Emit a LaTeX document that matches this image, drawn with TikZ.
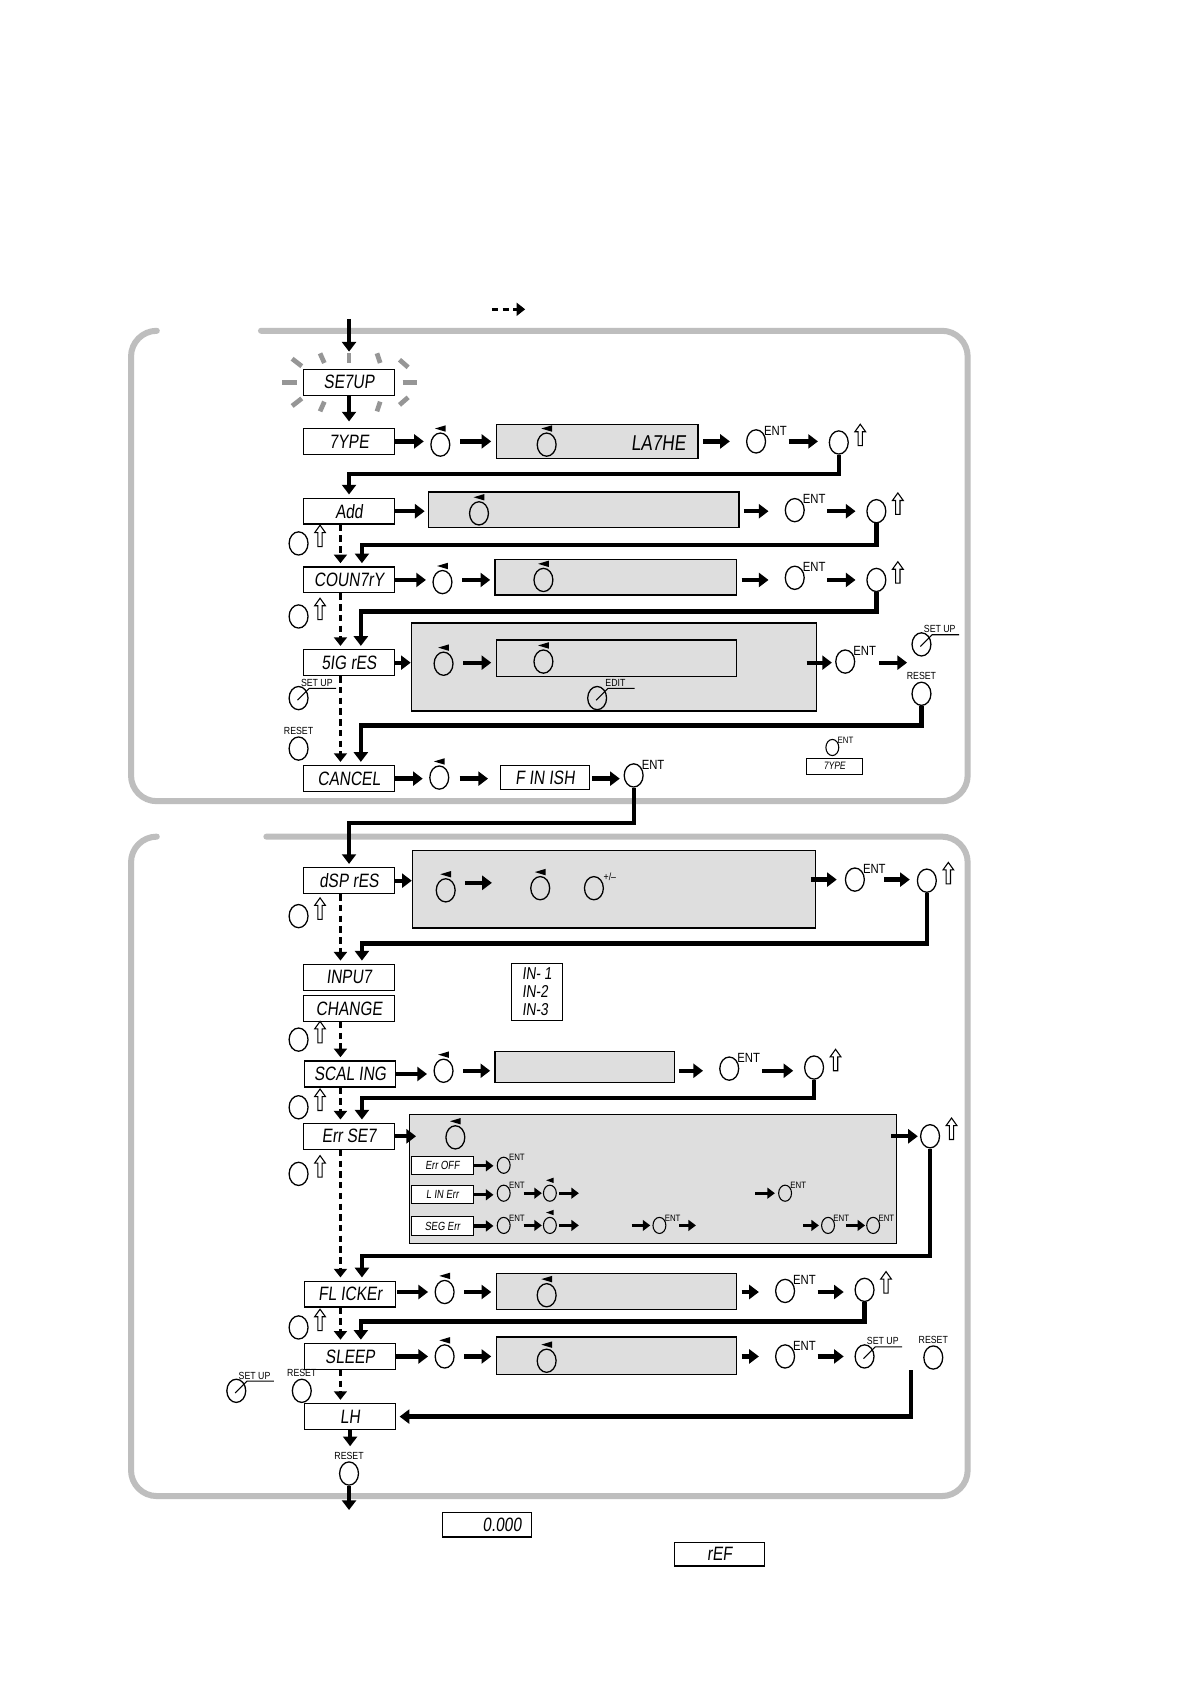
\documentclass[tikz,border=0pt]{standalone}
\usepackage{fontspec}
\setmainfont{Liberation Sans}
\newfontfamily\lcdfont[FakeSlant=0.12,FakeStretch=0.8]{Liberation Sans}
\newfontfamily\lblfont[FakeStretch=0.85]{Liberation Sans}
\usetikzlibrary{arrows.meta,shapes.geometric,calc}
\definecolor{frm}{RGB}{190,190,190}
\definecolor{gfill}{RGB}{222,222,222}
\definecolor{raycol}{RGB}{150,150,150}
\newcommand\mytri[1]{\fill ([shift={(-5,-15)}]#1.center) -- ++(10,-3) -- ++(0,6) -- cycle;}
\newcommand\mystri[1]{\fill ([shift={(-3.5,-12)}]#1.center) -- ++(7,-2.5) -- ++(0,5) -- cycle;}
\newcommand\myup[1]{\draw[line width=0.5pt,fill=white] ([shift={(20,-7)}]#1.center) ++(0,-10) -- ++(-5,7) -- ++(3,0) -- ++(0,13) -- ++(4,0) -- ++(0,-13) -- ++(3,0) -- cycle;}
\newcommand\myent[1]{\node[lbl,anchor=south west] (#1ent) at ([shift={(0.5,2.5)}]#1.north east) {ENT};}
\newcommand\mysent[1]{\node[sslbl,anchor=south west] (#1ent) at ([shift={(0,2)}]#1.north east) {ENT};}
\newcommand\myset[2]{\draw[line width=0.5pt] ([shift={(-1,2)}]#1.center) -- ([shift={(10,-9)}]#1.center) -- ([shift={(35,-9)}]#1.center);
 \node[slbl,anchor=south] (#1lab) at ([shift={(17,-10.5)}]#1.center) {#2};}
\newcommand\myres[1]{\node[slbl,anchor=south] (#1lab) at ([shift={(0,-12.5)}]#1.center) {RESET};}
\begin{document}
\begin{tikzpicture}[x=0.5pt,y=-0.5pt,
 arr/.style={line width=2pt,-{Triangle[length=4.5pt,width=6.5pt]}},
 sarr/.style={line width=1.5pt,-{Triangle[length=3.5pt,width=5pt]}},
 flow/.style={line width=2pt,-{Triangle[length=4.5pt,width=6.5pt]},shorten >=1.5pt},
 darr/.style={line width=1.6pt,dash pattern=on 3pt off 2pt,-{Triangle[length=4pt,width=6pt]},shorten >=1.5pt},
 frame/.style={line width=2.8pt,frm,line cap=round},
 disp/.style={draw,line width=0.6pt,fill=white,minimum width=42.5pt,minimum height=12pt,inner sep=0pt,font=\lcdfont\fontsize{9}{9}\selectfont},
 sdisp/.style={draw,line width=0.5pt,fill=white,minimum width=29pt,minimum height=8.5pt,inner sep=0pt,font=\lcdfont\fontsize{5.5}{5.5}\selectfont},
 gbox/.style={draw,line width=0.6pt,fill=gfill,inner sep=0pt},
 btn/.style={draw,ellipse,line width=0.6pt,minimum width=8.8pt,minimum height=10.8pt,inner sep=0pt},
 sbtn/.style={draw,ellipse,line width=0.5pt,minimum width=6pt,minimum height=7.5pt,inner sep=0pt},
 lbl/.style={font=\lblfont\fontsize{6.2}{6.2}\selectfont,inner sep=0pt},
 slbl/.style={font=\lblfont\fontsize{4.8}{4.8}\selectfont,inner sep=0pt},
 sslbl/.style={font=\lblfont\fontsize{4.3}{4.3}\selectfont,inner sep=0pt},
 gA/.style={shorten >=3pt},
 gB/.style={shorten <=4.5pt,shorten >=2pt},
 gC/.style={shorten <=2pt,shorten >=7.5pt},
 gD/.style={shorten <=10.5pt,shorten >=5pt},
]
\fill[white] (0,0) rectangle (1108,1568);
\useasboundingbox (0,0) rectangle (1108,1568);

% legend
\coordinate (lgA) at (458,288); \coordinate (lgB) at (489,288);
\draw[darr,shorten >=0pt] (lgA) -- (lgB);

% frames
\draw[frame] (146,308) arc[start angle=270,end angle=180,radius=24] -- (122,722) arc[start angle=180,end angle=90,radius=24] -- (877,746) arc[start angle=90,end angle=0,radius=24] -- (901,332) arc[start angle=0,end angle=-90,radius=24] -- (243,308);
\draw[frame] (146,779) arc[start angle=270,end angle=180,radius=24] -- (122,1369) arc[start angle=180,end angle=90,radius=24] -- (877,1393) arc[start angle=90,end angle=0,radius=24] -- (901,803) arc[start angle=0,end angle=-90,radius=24] -- (248,779);

% ===== SETUP
\node[disp] (setup) at (325,356) {SE7UP};
\foreach \a/\b/\c/\d in {-62/0/-48/0, 50/0/63/0, -53/-22/-44/-15, -27/-27/-23/-18, 26/-27/29/-18, 47/-21/55/-14, -53/22/-44/15, -27/27/-23/18, 26/27/29/18, 47/21/55/14, 0/-27/0/-18, 0/16/0/24}
 \draw[raycol,line width=2.2pt] ($(setup.center)+(\a,\b)$) -- ($(setup.center)+(\c,\d)$);
\coordinate (start) at (325,297);
\draw[arr,shorten >=8pt] (start) -- (setup.north);

% ===== TYPE
\node[disp] (type) at (325,411) {7YPE};
\draw[arr,shorten >=3pt] (setup.south) -- (type.north);
\node[btn] (t1) at (410,414) {}; \mytri{t1}
\node[gbox,minimum width=94pt,minimum height=16pt] (tg) at (556,411) {};
\node[btn] (t2) at (509,414) {}; \mytri{t2}
\node[font=\lcdfont\fontsize{10}{10}\selectfont,inner sep=0pt] (tlathe) at (613,413) {LA7HE};
\node[btn] (t3) at (704,411) {}; \myent{t3}
\node[btn] (t4) at (781,412) {}; \myup{t4}
\draw[arr,gA] (type.east) -- (type.east -| t1.west);
\draw[arr,gB] (type.east -| t1.east) -- (type.east -| tg.west);
\draw[arr,gC] (type.east -| tg.east) -- (type.east -| t3.west);
\draw[arr,gD] (type.east -| t3.east) -- (type.east -| t4.west);

% ===== Add
\node[disp] (add) at (325,476) {Add};
\node[gbox,minimum width=144.5pt,minimum height=16.5pt] (ag) at (543.5,474.5) {};
\node[btn] (a1) at (446,478) {}; \mytri{a1}
\node[btn] (a2) at (740,475) {}; \myent{a2}
\node[btn] (a3) at (816,476) {}; \myup{a3}
\draw[arr,shorten >=1.5pt] (add.east) -- (add.east -| ag.west);
\draw[arr,gC] (add.east -| ag.east) -- (add.east -| a2.west);
\draw[arr,gD] (add.east -| a2.east) -- (add.east -| a3.west);
\node[btn] (al) at (278,506) {}; \myup{al}

% ===== COUNTRY
\node[disp] (country) at (325,540) {COUN7rY};
\node[btn] (c1) at (412,542) {}; \mytri{c1}
\node[gbox,minimum width=112.5pt,minimum height=16.5pt] (cg) at (573.5,537.5) {};
\node[btn] (c2) at (506,540) {}; \mytri{c2}
\node[btn] (c3) at (740,538) {}; \myent{c3}
\node[btn] (c4) at (816,540) {}; \myup{c4}
\draw[arr,gA] (country.east) -- (country.east -| c1.west);
\draw[arr,gB] (country.east -| c1.east) -- (country.east -| cg.west);
\draw[arr,gC] (country.east -| cg.east) -- (country.east -| c3.west);
\draw[arr,gD] (country.east -| c3.east) -- (country.east -| c4.west);
\node[btn] (cl) at (278,574) {}; \myup{cl}

% ===== SIG rES
\node[disp] (sigres) at (325,617) {5IG rES};
\node[gbox,minimum width=188.5pt,minimum height=41pt] (sg) at (571.5,621) {};
\node[btn] (s1) at (413,618) {}; \mytri{s1}
\node[gbox,minimum width=112pt,minimum height=17pt] (sgi) at (574,613) {};
\node[btn] (s2) at (506,616) {}; \mytri{s2}
\node[btn] (s3) at (556,650) {}; \myset{s3}{EDIT}
\coordinate (s0) at (751,617);
\node[btn] (s4) at (787,616) {}; \myent{s4}
\node[btn] (s5) at (858,600) {}; \myset{s5}{SET UP}
\node[btn] (s6) at (858,646) {}; \myres{s6}
\draw[arr] (sigres.east) -- (sigres.east -| sg.west);
\draw[arr,gB] (sigres.east -| s1.east) -- (sigres.east -| sgi.west);
\draw[arr,shorten >=1.5pt] (s0) -- (s0 -| s4.west);
\draw[arr,shorten <=11pt,shorten >=2pt] (s0 -| s4.east) -- (s0 -| s5.west);
\node[btn] (sl1) at (278,650) {}; \myset{sl1}{SET UP}
\node[btn] (sl2) at (278,697) {}; \myres{sl2}

% ===== CANCEL
\node[disp] (cancel) at (325,725) {CANCEL};
\node[btn] (n1) at (409,724) {}; \mytri{n1}
\node[disp,minimum width=41.5pt,minimum height=11pt] (finish) at (507.5,724) {F IN ISH};
\node[btn] (n2) at (590,722) {}; \myent{n2}
\draw[arr,gA] (cancel.east) -- (cancel.east -| n1.west);
\draw[arr,shorten <=4.75pt,shorten >=5.5pt] (cancel.east -| n1.east) -- (cancel.east -| finish.west);
\draw[arr,shorten <=1pt,shorten >=1.75pt] (cancel.east -| finish.east) -- (cancel.east -| n2.west);
\node[sbtn] (n3) at (775,696) {}; \mysent{n3}
\node[draw,line width=0.5pt,minimum width=26pt,minimum height=7.5pt,inner sep=0pt,font=\lcdfont\fontsize{5}{5}\selectfont] (n4) at (777,713.5) {7YPE};

% ===== dSP rES
\node[disp] (dsp) at (325,820) {dSP rES};
\node[gbox,minimum width=187.5pt,minimum height=36pt] (dg) at (571.5,828) {};
\node[btn] (d1) at (415,829) {}; \mytri{d1}
\coordinate (d1e) at (458,822);
\node[btn] (d2) at (503,827) {}; \mytri{d2}
\node[btn] (d3) at (553,827) {};
\node[slbl,anchor=south west] (d3lab) at ([shift={(2,1)}]d3.north east) {+/–};
\coordinate (d0) at (755,819);
\node[btn] (d4) at (796,819) {}; \myent{d4}
\node[btn] (d5) at (863,820) {}; \myup{d5}
\draw[arr] (dsp.east) -- (dsp.east -| dg.west);
\draw[arr,shorten <=4.25pt] (d1e -| d1.east) -- (d1e);
\draw[arr,shorten >=3.75pt] (d0) -- (d0 -| d4.west);
\draw[arr,shorten <=9pt,shorten >=3.25pt] (d0 -| d4.east) -- (d0 -| d5.west);
\node[btn] (dl) at (278,853) {}; \myup{dl}

% ===== INPUT CHANGE
\node[disp] (input) at (325,910) {INPU7};
\node[disp] (change) at (325,939) {CHANGE};
\node[draw,line width=0.6pt,minimum width=24pt,minimum height=26.5pt,inner sep=1pt,align=left,font=\lcdfont\fontsize{8}{8.5}\selectfont] (inbox) at (500,923.5) {IN- 1\\IN-2\\IN-3};
\node[btn] (il) at (278,968) {}; \myup{il}

% ===== SCALING
\node[disp] (scaling) at (326,1000) {SCAL ING};
\node[btn] (k1) at (413,997) {}; \mytri{k1}
\node[gbox,minimum width=83.5pt,minimum height=14.5pt] (kg) at (544.5,993.5) {};
\node[btn] (k2) at (679,995) {}; \myent{k2}
\node[btn] (k3) at (758,994) {}; \myup{k3}
\coordinate (krow) at (370,997);
\draw[arr,gA] (scaling.east) -- (scaling.east -| k1.west);
\draw[arr,gB] (krow -| k1.east) -- (krow -| kg.west);
\draw[arr,gC] (krow -| kg.east) -- (krow -| k2.west);
\draw[arr,gD] (krow -| k2.east) -- (krow -| k3.west);
\node[btn] (kl) at (278,1031) {}; \myup{kl}

% ===== Err SET
\node[disp] (errset) at (325,1058) {Err SE7};
\node[gbox,minimum width=227pt,minimum height=60pt] (eg) at (608,1098) {};
\node[btn] (e1) at (424,1059) {}; \mytri{e1}
\coordinate (e0) at (830,1058);
\node[btn] (e2) at (866,1058) {}; \myup{e2}
\draw[arr,shorten >=-3.5pt] (errset.east) -- (errset.east -| eg.west);
\draw[arr,shorten >=1pt] (e0) -- (e0 -| e2.west);
\node[sdisp] (eoff) at (412,1085.5) {Err OFF};
\node[sbtn] (eo1) at (469,1085) {}; \mysent{eo1}
\draw[sarr,shorten >=1.5pt] (eoff.east) -- (eoff.east -| eo1.west);
\node[sdisp] (elin) at (412,1112.5) {L IN Err};
\node[sbtn] (el1) at (469,1111) {}; \mysent{el1}
\node[sbtn] (el2) at (512,1111) {}; \mystri{el2}
\coordinate (el3) at (539,1111);
\coordinate (el4) at (703,1111);
\node[sbtn] (el5) at (731,1111) {}; \mysent{el5}
\draw[sarr,shorten >=1.5pt] (elin.east) -- (elin.east -| el1.west);
\draw[sarr,shorten <=6pt,shorten >=0.5pt] (el1.east) -- (el2.west);
\draw[sarr,shorten <=1pt] (el2.east) -- (el3);
\draw[sarr,shorten >=1.5pt] (el4) -- (el5.west);
\node[sdisp] (eseg) at (412,1141.5) {SEG Err};
\node[sbtn] (es1) at (469,1141) {}; \mysent{es1}
\node[sbtn] (es2) at (512,1141) {}; \mystri{es2}
\coordinate (es3) at (539,1141);
\coordinate (es4) at (588,1141);
\node[sbtn] (es5) at (614,1141) {}; \mysent{es5}
\coordinate (es6) at (648,1141);
\coordinate (es7) at (748,1141);
\node[sbtn] (es8) at (771,1141) {}; \mysent{es8}
\node[sbtn] (es9) at (813,1141) {}; \mysent{es9}
\draw[sarr,shorten >=1.5pt] (eseg.east) -- (eseg.east -| es1.west);
\draw[sarr,shorten <=6pt,shorten >=0.5pt] (es1.east) -- (es2.west);
\draw[sarr,shorten <=1pt] (es2.east) -- (es3);
\draw[sarr,shorten >=1pt] (es4) -- (es5.west);
\draw[sarr,shorten <=6pt] (es5.east) -- (es6);
\draw[sarr,shorten >=1pt] (es7) -- (es8.west);
\draw[sarr,shorten <=5pt,shorten >=0.5pt] (es8.east) -- (es9.west);
\node[btn] (el) at (278,1093) {}; \myup{el}

% ===== FLICKER
\node[disp] (flicker) at (326,1205) {FL ICKEr};
\node[btn] (f1) at (414,1203) {}; \mytri{f1}
\node[gbox,minimum width=112pt,minimum height=16.5pt] (fg) at (574,1202.5) {};
\node[btn] (f2) at (509,1206) {}; \mytri{f2}
\node[btn] (f3) at (731,1202) {}; \myent{f3}
\node[btn] (f4) at (805,1201) {}; \myup{f4}
\coordinate (frow) at (370,1203);
\draw[arr,gA] (frow) -- (frow -| f1.west);
\draw[arr,gB] (frow -| f1.east) -- (frow -| fg.west);
\draw[arr,gC] (frow -| fg.east) -- (frow -| f3.west);
\draw[arr,gD] (frow -| f3.east) -- (frow -| f4.west);
\node[btn] (fl) at (278,1236) {}; \myup{fl}

% ===== SLEEP
\node[disp] (sleep) at (326,1263) {SLEEP};
\node[btn] (p1) at (414,1263) {}; \mytri{p1}
\node[gbox,minimum width=112pt,minimum height=17.5pt] (pg) at (574,1262.5) {};
\node[btn] (p2) at (509,1267) {}; \mytri{p2}
\node[btn] (p3) at (731,1263) {}; \myent{p3}
\node[btn] (p4) at (805,1263) {}; \myset{p4}{SET UP}
\node[btn] (p5) at (869,1264) {}; \myres{p5}
\coordinate (p0) at (848,1276);
\draw[arr,gA] (sleep.east) -- (sleep.east -| p1.west);
\draw[arr,gB] (sleep.east -| p1.east) -- (sleep.east -| pg.west);
\draw[arr,gC] (sleep.east -| pg.east) -- (sleep.east -| p3.west);
\draw[arr,gD] (sleep.east -| p3.east) -- (sleep.east -| p4.west);
\node[btn] (pl1) at (220,1295) {}; \myset{pl1}{SET UP}
\node[btn] (pl2) at (281,1295) {}; \myres{pl2}

% ===== LH
\node[disp] (lh) at (326,1319) {LH};
\node[btn] (r1) at (325,1372) {}; \myres{r1}
\coordinate (endA) at (325,1406);
\draw[arr,shorten >=7pt] (lh.south) -- (lh.south |- r1.north);
\draw[arr] (r1.south) -- (endA);

% bottom displays
\node[disp,minimum width=41.5pt,minimum height=11.5pt] (zero) at (453.5,1419.5) {\hspace*{14pt}0.000};
\node[disp,minimum width=42pt,minimum height=11pt] (refd) at (670,1447) {rEF};

% ===== return flows
\draw[flow] (t4.south) -- ++(0,18) -| (add.north);
\draw[flow] (a3.south) -- ++(0,20) -| ($(country.north)+(12,0)$);
\draw[flow] (c4.south) -- ++(0,18) -| ($(sigres.north)+(11,0)$);
\draw[flow] (s6.south) -- ++(0,18) -| ($(cancel.north)+(11,0)$);
\draw[flow] (n2.south) -- ++(0,33) -| (dsp.north);
\draw[flow] (d5.south) -- ++(0,47) -| ($(input.north)+(12,0)$);
\draw[flow] (k3.south) -- ++(0,17) -| ($(errset.north)+(12,0)$);
\draw[flow] (e2.south) -- ++(0,100) -| ($(flicker.north)+(11,0)$);
\draw[flow] (f4.south) -- ++(0,18) -| ($(sleep.north)+(10,0)$);
\draw[flow] (p0) |- (lh.east);

% ===== dashed
\draw[darr] ($(add.south)+(-8,0)$) -- ($(country.north)+(-8,0)$);
\draw[darr] ($(country.south)+(-8,0)$) -- ($(sigres.north)+(-8,0)$);
\draw[darr] ($(sigres.south)+(-8,0)$) -- ($(cancel.north)+(-8,0)$);
\draw[darr] ($(dsp.south)+(-8,0)$) -- ($(input.north)+(-8,0)$);
\draw[darr] ($(change.south)+(-8,0)$) -- ($(scaling.north)+(-9,0)$);
\draw[darr] ($(scaling.south)+(-9,0)$) -- ($(errset.north)+(-8,0)$);
\draw[darr] ($(errset.south)+(-8,0)$) -- ($(flicker.north)+(-9,0)$);
\draw[darr] ($(flicker.south)+(-9,0)$) -- ($(sleep.north)+(-9,0)$);
\draw[darr] ($(sleep.south)+(-9,0)$) -- ($(lh.north)+(-9,0)$);
\end{tikzpicture}
\end{document}
